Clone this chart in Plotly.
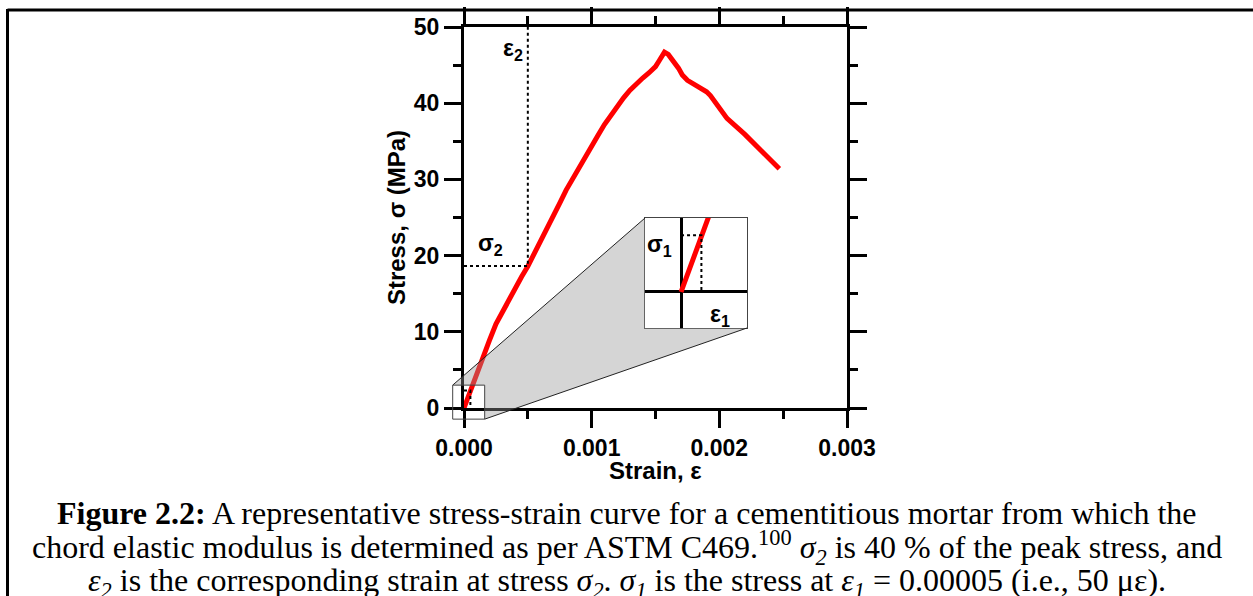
import plotly.graph_objects as go

# ---------------- data ----------------
strain = [0, 0.00003, 0.00005, 0.00008, 0.00012, 0.00016, 0.0002, 0.00025, 0.0003,
          0.00035, 0.0004, 0.00045, 0.0005, 0.00055, 0.0006, 0.00065, 0.0007, 0.00075,
          0.0008, 0.00085, 0.0009, 0.00095, 0.001, 0.00105, 0.0011, 0.00115, 0.0012,
          0.00125, 0.0013, 0.00135, 0.0014, 0.00145, 0.0015, 0.00153, 0.00155, 0.00157,
          0.0016, 0.00164, 0.00168, 0.00171, 0.00175, 0.0018, 0.00185, 0.0019, 0.00193,
          0.00198, 0.00206, 0.0022, 0.00235, 0.00247]
stress = [0, 1.4, 2.3, 3.6, 5.4, 7.1, 8.9, 11.0, 12.6,
          14.3, 15.8, 17.2, 18.6, 20.2, 21.8, 23.5, 25.1, 26.9,
          28.6, 30.1, 31.6, 33.0, 34.4, 35.8, 37.2, 38.4, 39.6,
          40.7, 41.7, 42.6, 43.3, 44.0, 44.8, 45.6, 46.3, 46.7,
          46.4, 45.6, 44.6, 43.7, 43.0, 42.5, 42.0, 41.5, 41.0,
          39.9, 38.0, 35.9, 33.5, 31.4]

eps1, sigma1 = 0.00005, 2.3
eps2, sigma2 = 0.0005, 18.64

x_range = [0, 0.003]
y_range = [0, 50]
x_ticks = [0, 0.001, 0.002, 0.003]
x_ticklabels = ["0.000", "0.001", "0.002", "0.003"]
y_ticks = [0, 10, 20, 30, 40, 50]

zoom_x_range = [-0.0000885, 0.000162]
zoom_y_range = [-1.46, 3.0]

x_title = "Strain, ε"
y_title = "Stress, σ (MPa)"
caption = [
    "<b>Figure 2.2:</b> A representative stress-strain curve for a cementitious mortar from which the",
    "chord elastic modulus is determined as per ASTM C469.<sup>100</sup> <i>σ<sub>2</sub></i> is 40 % of the peak stress, and",
    "<i>ε<sub>2</sub></i> is the corresponding strain at stress <i>σ<sub>2</sub></i>. <i>σ<sub>1</sub></i> is the stress at <i>ε<sub>1</sub></i> = 0.00005 (i.e., 50 με).",
]

# ---------------- layout geometry ----------------
W, H = 1253, 596
main_xdom = [464 / W, 847 / W]
main_ydom = [1 - 408 / H, 1 - 27 / H]
ins_xdom = [645 / W, 747 / W]
ins_ydom = [1 - 328 / H, 1 - 218 / H]

RED = "#ff0000"
TICK_FONT = dict(family="Liberation Sans, Arial", size=23, color="black", weight="bold")
TITLE_FONT = dict(family="Liberation Sans, Arial", size=24, color="black", weight="bold")


def px(v):
    return main_xdom[0] + (v - x_range[0]) / (x_range[1] - x_range[0]) * (main_xdom[1] - main_xdom[0])


def py(v):
    return main_ydom[0] + (v - y_range[0]) / (y_range[1] - y_range[0]) * (main_ydom[1] - main_ydom[0])


fig = go.Figure()

# main curve
fig.add_trace(go.Scatter(x=strain, y=stress, mode="lines",
                         line=dict(color=RED, width=5),
                         xaxis="x", yaxis="y", showlegend=False, hoverinfo="skip"))
# sigma2 / eps2 guide lines
fig.add_trace(go.Scatter(x=[0, eps2, eps2], y=[sigma2, sigma2, y_range[1]], mode="lines",
                         line=dict(color="black", width=2, dash="dot"),
                         xaxis="x", yaxis="y", showlegend=False, hoverinfo="skip"))
# sigma1 / eps1 guide lines (tiny in main plot)
fig.add_trace(go.Scatter(x=[0, eps1, eps1], y=[sigma1, sigma1, 0], mode="lines",
                         line=dict(color="black", width=2, dash="dot"),
                         xaxis="x", yaxis="y", showlegend=False, hoverinfo="skip"))

# inset curve
fig.add_trace(go.Scatter(x=strain, y=stress, mode="lines",
                         line=dict(color=RED, width=5), xaxis="x2", yaxis="y2",
                         showlegend=False, hoverinfo="skip"))
fig.add_trace(go.Scatter(x=[0, eps1, eps1], y=[sigma1, sigma1, 0], mode="lines",
                         line=dict(color="black", width=2, dash="dot"),
                         xaxis="x2", yaxis="y2", showlegend=False, hoverinfo="skip"))

axis_common = dict(showline=True, linewidth=3, linecolor="black", mirror="allticks",
                   ticks="outside", ticklen=17, tickwidth=3, tickcolor="black",
                   showgrid=False, zeroline=False, tickfont=TICK_FONT, automargin=False)

fig.update_layout(
    template="none",
    width=W, height=H,
    margin=dict(l=0, r=0, t=0, b=0, pad=0, autoexpand=False),
    paper_bgcolor="white", plot_bgcolor="white",
    showlegend=False,
    xaxis=dict(domain=main_xdom, range=x_range, tickvals=x_ticks, ticktext=x_ticklabels,
               minor=dict(dtick=0.0005, ticklen=8, tickwidth=3, tickcolor="black", ticks="outside"),
               anchor="y", **axis_common),
    yaxis=dict(domain=main_ydom, range=y_range, tickvals=y_ticks,
               minor=dict(dtick=5, ticklen=8, tickwidth=3, tickcolor="black", ticks="outside"),
               title=dict(text=y_title, font=TITLE_FONT, standoff=2),
               anchor="x", **axis_common),
    xaxis2=dict(domain=ins_xdom, range=zoom_x_range, anchor="y2", showline=True, mirror=True,
                linewidth=1, linecolor="#444", showticklabels=False, ticks="", showgrid=False,
                zeroline=True, zerolinewidth=3, zerolinecolor="black", automargin=False),
    yaxis2=dict(domain=ins_ydom, range=zoom_y_range, anchor="x2", showline=True, mirror=True,
                linewidth=1, linecolor="#444", showticklabels=False, ticks="", showgrid=False,
                zeroline=True, zerolinewidth=3, zerolinecolor="black", automargin=False),
)

# x-axis title placed just under the tick labels
fig.add_annotation(x=(main_xdom[0] + main_xdom[1]) / 2, y=1 - 470 / H, xref="paper", yref="paper",
                   text=x_title, showarrow=False, font=TITLE_FONT, yanchor="middle")

# zoom box and connecting wedge
A = (px(zoom_x_range[0]), py(zoom_y_range[1]))
F = (px(zoom_x_range[1]), py(zoom_y_range[1]))
E = (px(zoom_x_range[1]), py(zoom_y_range[0]))
B = (ins_xdom[0], ins_ydom[1])
C = (ins_xdom[0], ins_ydom[0])
D = (ins_xdom[1], ins_ydom[0])
poly = "M {} {} L {} {} L {} {} L {} {} L {} {} L {} {} Z".format(*A, *B, *C, *D, *E, *F)
fig.add_shape(type="path", path=poly, xref="paper", yref="paper", layer="above",
              fillcolor="rgba(150,150,150,0.4)", line=dict(width=0))
fig.add_shape(type="line", x0=A[0], y0=A[1], x1=B[0], y1=B[1], xref="paper", yref="paper",
              layer="above", line=dict(color="#222", width=1))
fig.add_shape(type="line", x0=E[0], y0=E[1], x1=D[0], y1=D[1], xref="paper", yref="paper",
              layer="above", line=dict(color="#222", width=1))
fig.add_shape(type="rect", x0=A[0], y0=E[1], x1=E[0], y1=A[1], xref="paper", yref="paper",
              layer="above", line=dict(color="#444", width=1))

# page frame
fig.add_shape(type="line", x0=7.5 / W, x1=1.0, y0=1 - 10 / H, y1=1 - 10 / H, xref="paper", yref="paper",
              line=dict(color="black", width=3))
fig.add_shape(type="line", x0=7.5 / W, x1=7.5 / W, y0=0, y1=1 - 9 / H, xref="paper", yref="paper",
              line=dict(color="black", width=3))

LBL_FONT = dict(family="Liberation Sans, Arial", size=23, color="black", weight="bold")
fig.add_annotation(x=0.00021, y=21.5, xref="x", yref="y", text="σ<sub>2</sub>",
                   showarrow=False, font=LBL_FONT)
fig.add_annotation(x=0.00048, y=47.0, xref="x", yref="y", text="ε<sub>2</sub>",
                   showarrow=False, font=LBL_FONT, xanchor="right")
fig.add_annotation(x=-0.000052, y=1.9, xref="x2", yref="y2", text="σ<sub>1</sub>",
                   showarrow=False, font=LBL_FONT)
fig.add_annotation(x=0.000095, y=-0.95, xref="x2", yref="y2", text="ε<sub>1</sub>",
                   showarrow=False, font=LBL_FONT)

CAP_FONT = dict(family="Liberation Serif, Times New Roman", size=32, color="black")
for i, (line, yc) in enumerate(zip(caption, [513, 547, 582])):
    fig.add_annotation(x=0.5, y=1 - yc / H, xref="paper", yref="paper", text=line,
                       showarrow=False, font=CAP_FONT, xanchor="center", yanchor="middle")

fig.write_html("out.html")
